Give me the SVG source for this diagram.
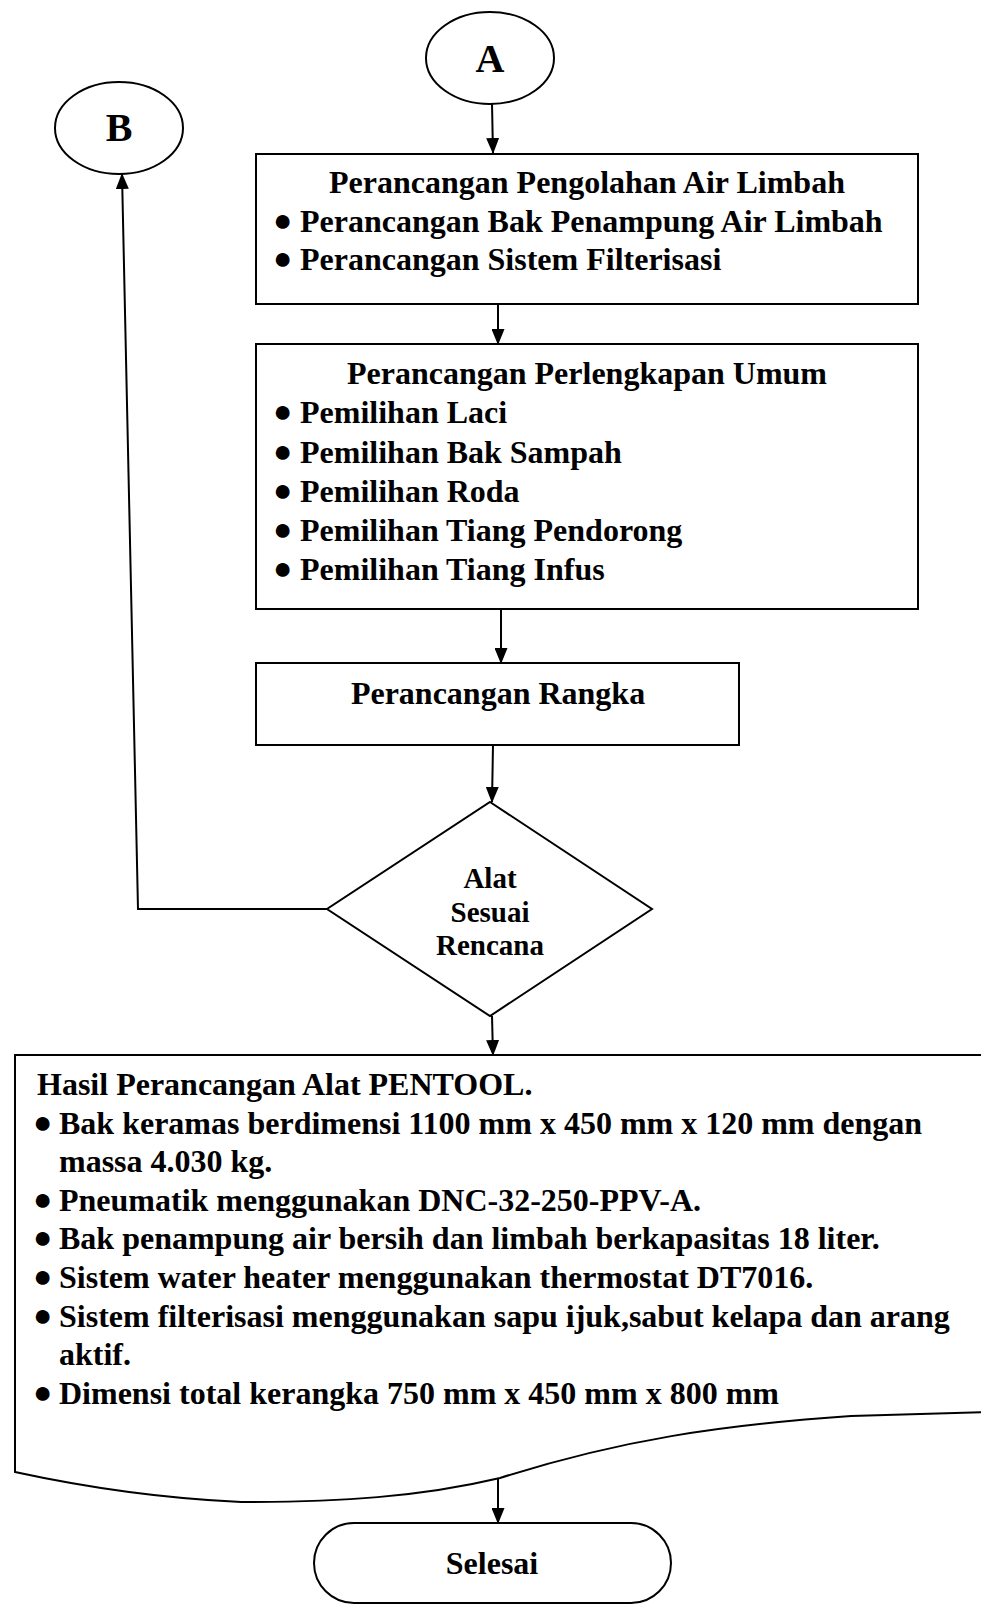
<svg xmlns="http://www.w3.org/2000/svg" width="981" height="1605" viewBox="0 0 981 1605">
<style>
.s{fill:#fff;stroke:#000;stroke-width:2}
.t{font-family:"Liberation Serif","Times New Roman",serif;font-weight:bold;font-size:32px;fill:#000}
.c{text-anchor:middle}
.d{font-size:29px}
.big{font-size:40px}
.b{font-weight:normal;font-size:32px}
.ln{fill:none;stroke:#000;stroke-width:2}
</style>
<defs>
<marker id="arr" markerWidth="16" markerHeight="13" refX="15" refY="6.5" orient="auto" markerUnits="userSpaceOnUse">
<path d="M0,0 L16,6.5 L0,13 Z" fill="#000"/>
</marker>
</defs>

<g id="connectors">
<line class="ln" x1="492" y1="104" x2="493" y2="153" marker-end="url(#arr)"/>
<line class="ln" x1="498" y1="304" x2="498" y2="344" marker-end="url(#arr)"/>
<line class="ln" x1="501" y1="609" x2="501" y2="663" marker-end="url(#arr)"/>
<line class="ln" x1="493" y1="745" x2="492" y2="802" marker-end="url(#arr)"/>
<line class="ln" x1="492" y1="1016" x2="493" y2="1055" marker-end="url(#arr)"/>
<line class="ln" x1="498" y1="1478" x2="498" y2="1523" marker-end="url(#arr)"/>
<polyline class="ln" points="327,909 138,909 122,174" marker-end="url(#arr)"/>
</g>

<g id="nodeA">
<ellipse class="s" cx="490" cy="58" rx="64" ry="46"/>
<text class="t c big" x="490" y="72">A</text>
</g>

<g id="nodeB">
<ellipse class="s" cx="119" cy="128" rx="64" ry="46"/>
<text class="t c big" x="119" y="141">B</text>
</g>

<g id="box1">
<rect class="s" x="256" y="154" width="662" height="150"/>
<text class="t c" x="587" y="193">Perancangan Pengolahan Air Limbah</text>
<text class="t" x="273" y="231"><tspan class="b">●</tspan><tspan x="300" dy="1">Perancangan Bak Penampung Air Limbah</tspan></text>
<text class="t" x="273" y="269"><tspan class="b">●</tspan><tspan x="300" dy="1">Perancangan Sistem Filterisasi</tspan></text>
</g>

<g id="box2">
<rect class="s" x="256" y="344" width="662" height="265"/>
<text class="t c" x="587" y="384">Perancangan Perlengkapan Umum</text>
<text class="t" x="273" y="422"><tspan class="b">●</tspan><tspan x="300" dy="1">Pemilihan Laci</tspan></text>
<text class="t" x="273" y="462"><tspan class="b">●</tspan><tspan x="300" dy="1">Pemilihan Bak Sampah</tspan></text>
<text class="t" x="273" y="501"><tspan class="b">●</tspan><tspan x="300" dy="1">Pemilihan Roda</tspan></text>
<text class="t" x="273" y="540"><tspan class="b">●</tspan><tspan x="300" dy="1">Pemilihan Tiang Pendorong</tspan></text>
<text class="t" x="273" y="579"><tspan class="b">●</tspan><tspan x="300" dy="1">Pemilihan Tiang Infus</tspan></text>
</g>

<g id="box3">
<rect class="s" x="256" y="663" width="483" height="82"/>
<text class="t c" x="498" y="704">Perancangan Rangka</text>
</g>

<g id="decision">
<polygon class="s" stroke-width="1.5" points="490,802 652,909 490,1016 327,909"/>
<text class="t c d" x="490" y="888">Alat</text>
<text class="t c d" x="490" y="922">Sesuai</text>
<text class="t c d" x="490" y="955">Rencana</text>
</g>

<g id="result">
<path class="s" d="M15,1055 L990,1055 L990,1412 L851,1416 C720,1425 620,1440 500,1478 C420,1497 340,1502 241,1502 Q130,1497 15,1472 Z"/>
<text class="t" x="37" y="1095">Hasil Perancangan Alat PENTOOL.</text>
<text class="t" x="33" y="1133"><tspan class="b">●</tspan><tspan x="59" dy="1">Bak keramas berdimensi 1100 mm x 450 mm x 120 mm dengan</tspan></text>
<text class="t" x="59" y="1172">massa 4.030 kg.</text>
<text class="t" x="33" y="1210"><tspan class="b">●</tspan><tspan x="59" dy="1">Pneumatik menggunakan DNC-32-250-PPV-A.</tspan></text>
<text class="t" x="33" y="1248"><tspan class="b">●</tspan><tspan x="59" dy="1">Bak penampung air bersih dan limbah berkapasitas 18 liter.</tspan></text>
<text class="t" x="33" y="1287"><tspan class="b">●</tspan><tspan x="59" dy="1">Sistem water heater menggunakan thermostat DT7016.</tspan></text>
<text class="t" x="33" y="1326"><tspan class="b">●</tspan><tspan x="59" dy="1">Sistem filterisasi menggunakan sapu ijuk,sabut kelapa dan arang</tspan></text>
<text class="t" x="59" y="1365">aktif.</text>
<text class="t" x="33" y="1403"><tspan class="b">●</tspan><tspan x="59" dy="1">Dimensi total kerangka 750 mm x 450 mm x 800 mm</tspan></text>
</g>

<g id="selesai">
<rect class="s" x="314" y="1523" width="357" height="80" rx="40" ry="40"/>
<text class="t c" x="492" y="1574" font-size="30">Selesai</text>
</g>
</svg>
